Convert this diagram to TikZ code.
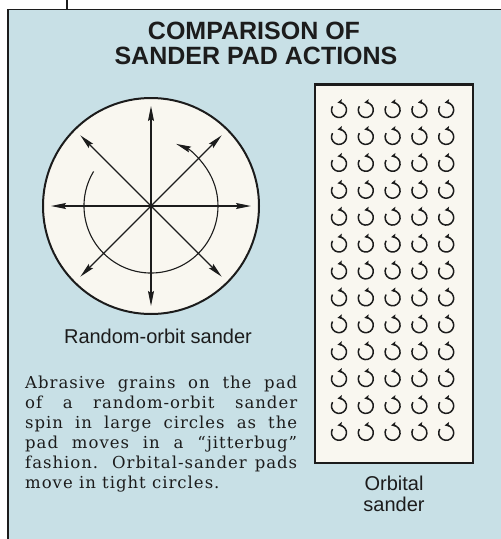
\documentclass[tikz,border=0pt]{standalone}
\usepackage{fontspec}
\setmainfont{DejaVu Serif}
\newfontfamily\hsans{Liberation Sans}
\usetikzlibrary{arrows.meta}
\definecolor{bluebg}{RGB}{200,224,230}
\definecolor{cream}{RGB}{249,247,240}
\definecolor{ink}{RGB}{28,28,28}
\tikzset{
  ray/.style={line width=1.1pt, draw=ink, -{Stealth[length=15pt,width=6pt,inset=2pt]}},
  orbit/.style={line width=1.5pt, draw=ink, -{Stealth[length=5pt,width=5pt,inset=1pt]}},
  frame/.style={draw=ink, line width=1.5pt},
  titletext/.style={anchor=base, inner sep=0, text=ink, font=\hsans\bfseries\fontsize{25}{28}\selectfont},
  captext/.style={anchor=base, inner sep=0, text=ink, font=\hsans\fontsize{20}{24}\selectfont},
  bodytext/.style={anchor=north west, inner sep=0, text=ink, text width=272pt, align=justify,
    font=\addfontfeatures{LetterSpace=6}\fontsize{16.5}{20}\selectfont}
}
\begin{document}
\begin{tikzpicture}[x=1pt,y=1pt]
\useasboundingbox (0,0) rectangle (501,-539);
\fill[white] (0,0) rectangle (501,-539);
\fill[bluebg] (8,-9.5) rectangle (501,-539);
\draw[frame] (8,-539) -- (8,-9.5) -- (501,-9.5);
\draw[frame] (67,0) -- (67,-9.5);

% title
\node[titletext] (t1) at (254,-39) {COMPARISON OF};
\node[titletext] (t2) at (256,-64) {SANDER PAD ACTIONS};

% random-orbit pad
\coordinate (c) at (151,-206);
\draw[ink, line width=2pt, fill=cream] (c) circle[radius=108];
\foreach \a in {0,45,...,315}{
  \draw[ray] (c) -- ++(\a:100);
}
\draw[ray] (c) ++(149:67) arc[start angle=149, end angle=428, radius=67];
\node[captext] (cap1) at (158,-343) {Random-orbit sander};

% orbital pad
\draw[ink, line width=2.5pt, fill=cream] (315,-84.5) rectangle (473,-463);
\foreach \i in {0,...,4}{
  \foreach \j in {0,...,12}{
    \draw[orbit] ({339+26.8*\i+7.5*cos(150)},{-110-26.9*\j+7.5*sin(150)})
      arc[start angle=150, end angle=462, radius=7.5];
  }
}
\node[captext] (cap2) at (394,-490) {Orbital};
\node[captext] (cap3) at (394,-511) {sander};

% body text
\node[bodytext] (para) at (25,-376) {Abrasive grains on the pad\linebreak
of a random-orbit sander\linebreak
spin in large circles as the\linebreak
pad moves in a “jitterbug”\linebreak
fashion. Orbital-sander pads\linebreak
move in tight circles.};
\end{tikzpicture}
\end{document}
